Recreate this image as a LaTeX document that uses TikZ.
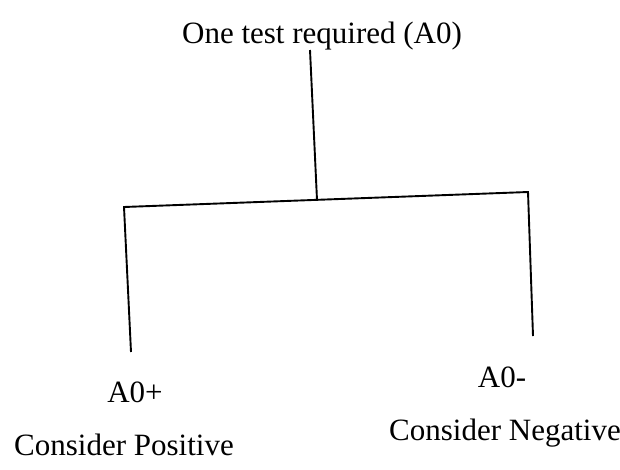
\documentclass[tikz,border=0pt]{standalone}
\usepackage{fontspec}
\setmainfont{Liberation Serif}
\begin{document}
\begin{tikzpicture}[x=1pt,y=-1pt,
  txt/.style={inner sep=0pt,anchor=base,font=\fontsize{31}{37}\selectfont},
  branch/.style={line width=1.9pt}]
  \useasboundingbox[fill=white] (0,0) rectangle (620,469);
  % root and its stem
  \node[txt] (root) at (322,43) {One test required (A0)};
  \coordinate (stem) at (310,50);
  \coordinate (join) at (317,200);
  % corners and free ends of the two branches
  \coordinate (lcorner) at (124,207);
  \coordinate (rcorner) at (528,192);
  \coordinate (lend) at (131,352);
  \coordinate (rend) at (533,336);
  % outcomes
  \node[txt] (pos) at (135,402) {A0+};
  \node[txt] (posname) at (124,455) {Consider Positive};
  \node[txt] (neg) at (502,387) {A0-};
  \node[txt] (negname) at (505,440) {Consider Negative};
  \draw[branch] (stem) -- (join);
  \draw[branch] (lend) -- (lcorner) -- (rcorner) -- (rend);
\end{tikzpicture}
\end{document}
